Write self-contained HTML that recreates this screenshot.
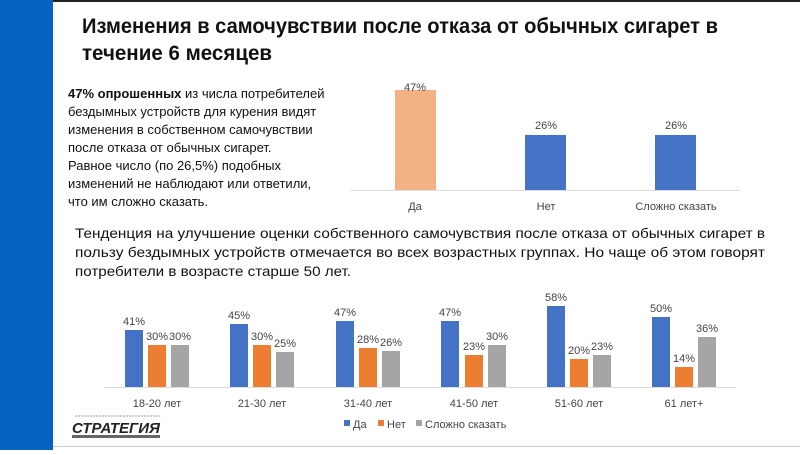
<!DOCTYPE html>
<html><head><meta charset="utf-8"><style>
body{margin:0;width:800px;height:450px;overflow:hidden;background:#fff;font-family:"Liberation Sans","DejaVu Sans",sans-serif}
</style></head><body>
<svg width="800" height="450" xmlns="http://www.w3.org/2000/svg" font-family="Liberation Sans, DejaVu Sans, sans-serif">
<rect x="0" y="0" width="800" height="450" fill="#fff"/>
<rect x="0" y="0" width="800" height="2" fill="#222"/>
<rect x="0" y="0" width="53" height="450" fill="#0563c1"/>
<rect x="53" y="446" width="747" height="1" fill="#ccc"/>
<text font-size="21" font-weight="bold" fill="#111"><tspan x="82" y="33" textLength="636" lengthAdjust="spacingAndGlyphs">Изменения в самочувствии после отказа от обычных сигарет в</tspan><tspan x="82" y="60" textLength="190" lengthAdjust="spacingAndGlyphs">течение 6 месяцев</tspan></text>
<text font-size="13" fill="#111">
<tspan x="68" y="98"><tspan font-weight="bold">47% опрошенных</tspan> из числа потребителей</tspan>
<tspan x="68" y="116">бездымных устройств для курения видят</tspan>
<tspan x="68" y="134">изменения в собственном самочувствии</tspan>
<tspan x="68" y="152">после отказа от обычных сигарет.</tspan>
<tspan x="68" y="170">Равное число (по 26,5%) подобных</tspan>
<tspan x="68" y="188">изменений не наблюдают или ответили,</tspan>
<tspan x="68" y="206">что им сложно сказать.</tspan>
</text>
<!-- top chart -->
<line x1="350" y1="190.5" x2="740" y2="190.5" stroke="#ddd"/>
<rect x="395" y="90" width="41" height="100" fill="#f4b183"/>
<rect x="525" y="135" width="41" height="55" fill="#4472c4"/>
<rect x="655" y="135" width="41" height="55" fill="#4472c4"/>
<g font-size="11" fill="#444" text-anchor="middle">
<text x="415" y="91">47%</text><text x="546" y="129">26%</text><text x="676" y="129">26%</text>
<text x="415" y="210">Да</text><text x="546" y="210">Нет</text><text x="676" y="210">Сложно сказать</text>
</g>
<text font-size="14" fill="#111">
<tspan x="75" y="238" textLength="690" lengthAdjust="spacingAndGlyphs">Тенденция на улучшение оценки собственного самочувствия после отказа от обычных сигарет в</tspan>
<tspan x="75" y="257" textLength="690" lengthAdjust="spacingAndGlyphs">пользу бездымных устройств отмечается во всех возрастных группах. Но чаще об этом говорят</tspan>
<tspan x="75" y="276" textLength="276" lengthAdjust="spacingAndGlyphs">потребители в возрасте старше 50 лет.</tspan>
</text>
<!-- bottom chart -->
<line x1="104" y1="387.5" x2="736" y2="387.5" stroke="#ddd"/>
<g font-size="11" fill="#444" text-anchor="middle">
<rect x="125" y="330" width="18" height="57" fill="#4472c4"/><rect x="148" y="345" width="18" height="42" fill="#ed7d31"/><rect x="171" y="345" width="18" height="42" fill="#a5a5a5"/>
<text x="134" y="325">41%</text><text x="157" y="340">30%</text><text x="180" y="340">30%</text><text x="157" y="407">18-20 лет</text>
<rect x="230" y="324" width="18" height="63" fill="#4472c4"/><rect x="253" y="345" width="18" height="42" fill="#ed7d31"/><rect x="276" y="352" width="18" height="35" fill="#a5a5a5"/>
<text x="239" y="319">45%</text><text x="262" y="340">30%</text><text x="285" y="347">25%</text><text x="262" y="407">21-30 лет</text>
<rect x="336" y="321" width="18" height="66" fill="#4472c4"/><rect x="359" y="348" width="18" height="39" fill="#ed7d31"/><rect x="382" y="351" width="18" height="36" fill="#a5a5a5"/>
<text x="345" y="316">47%</text><text x="368" y="343">28%</text><text x="391" y="346">26%</text><text x="368" y="407">31-40 лет</text>
<rect x="441" y="321" width="18" height="66" fill="#4472c4"/><rect x="465" y="355" width="18" height="32" fill="#ed7d31"/><rect x="488" y="345" width="18" height="42" fill="#a5a5a5"/>
<text x="450" y="316">47%</text><text x="474" y="350">23%</text><text x="497" y="340">30%</text><text x="474" y="407">41-50 лет</text>
<rect x="547" y="306" width="18" height="81" fill="#4472c4"/><rect x="570" y="359" width="18" height="28" fill="#ed7d31"/><rect x="593" y="355" width="18" height="32" fill="#a5a5a5"/>
<text x="556" y="301">58%</text><text x="579" y="354">20%</text><text x="602" y="350">23%</text><text x="579" y="407">51-60 лет</text>
<rect x="652" y="317" width="18" height="70" fill="#4472c4"/><rect x="675" y="367" width="18" height="20" fill="#ed7d31"/><rect x="698" y="337" width="18" height="50" fill="#a5a5a5"/>
<text x="661" y="312">50%</text><text x="684" y="362">14%</text><text x="707" y="332">36%</text><text x="684" y="407">61 лет+</text>
</g>
<g font-size="11" fill="#444">
<rect x="344" y="420" width="6" height="6" fill="#4472c4"/><text x="353" y="428">Да</text>
<rect x="378" y="420" width="6" height="6" fill="#ed7d31"/><text x="387" y="428">Нет</text>
<rect x="416" y="420" width="6" height="6" fill="#a5a5a5"/><text x="425" y="428">Сложно сказать</text>
</g>
<!-- logo -->
<line x1="75" y1="416" x2="160" y2="416" stroke="#999" stroke-dasharray="2 1"/>
<text x="72" y="433" font-size="15" font-style="italic" font-weight="bold" fill="#222" textLength="88" lengthAdjust="spacingAndGlyphs">СТРАТЕГИЯ</text>
<rect x="72" y="435" width="88" height="3" fill="#666"/>
</svg>
</body></html>
